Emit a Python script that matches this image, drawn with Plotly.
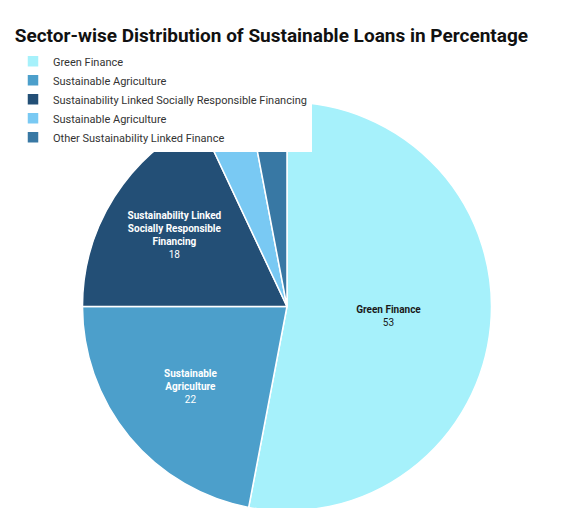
import plotly.graph_objects as go

labels = ['Green Finance', 'Sustainable Agriculture', 'Sustainability Linked Socially Responsible Financing',
          'Sustainable Agriculture ', 'Other Sustainability Linked Finance']
values = [53, 22, 18, 4, 3]
slice_text = ['<b>Green Finance</b><br>53', '<b>Sustainable<br>Agriculture</b><br>22',
              '<b>Sustainability Linked<br>Socially Responsible<br>Financing</b><br>18', '', '']
colors = ['#a6f1fb', '#4c9fcb', '#234f76', '#79c9f3', '#3878a4']

fig = go.Figure(go.Pie(
    labels=labels, values=values, text=slice_text,
    texttemplate='%{text}', textposition='inside', insidetextorientation='horizontal',
    sort=False, direction='clockwise', rotation=0,
    marker=dict(colors=colors, line=dict(color='white', width=1.5)),
    textfont=dict(size=10, color=['#1a1a1a', 'white', 'white', 'white', 'white']),
    domain=dict(x=[0.1245, 0.8646], y=[0, 1]),
))
fig.update_layout(
    width=564, height=508,
    font=dict(family='Roboto', size=11, color='#333'),
    title=dict(text='<b>Sector-wise Distribution of Sustainable Loans in Percentage</b>',
               x=0.012, y=0.96, font=dict(size=19, color='#111')),
    legend=dict(orientation='h', x=0.0, y=1.135, yanchor='top', font=dict(size=11),
                traceorder='normal', tracegroupgap=0),
    margin=dict(l=5, r=5, t=94, b=5),
    paper_bgcolor='white',
)
fig.write_html('out.html')
